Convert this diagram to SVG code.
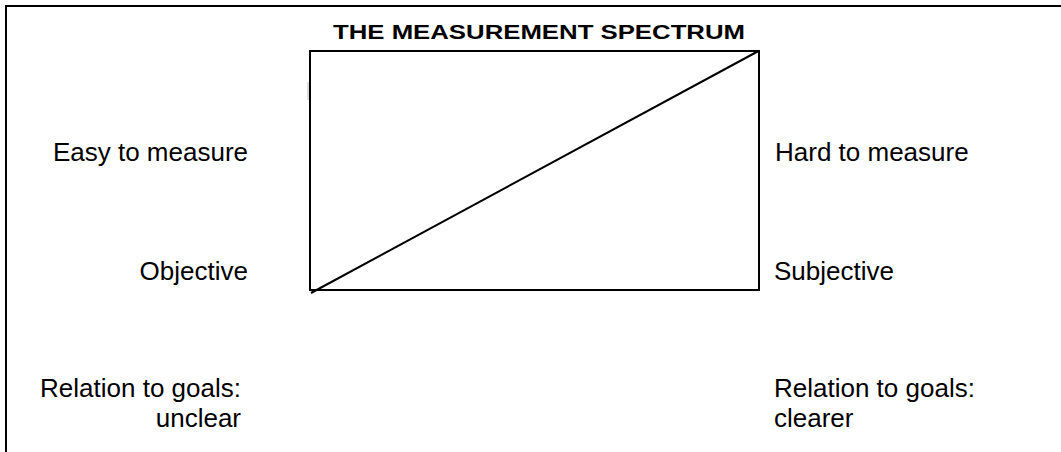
<svg xmlns="http://www.w3.org/2000/svg" width="1061" height="452" viewBox="0 0 1061 452">
<style>
.lbl{font-family:"Liberation Sans",Arial,Helvetica,sans-serif;font-size:26px;fill:#000}
.ttl{font-family:"Liberation Sans",Arial,Helvetica,sans-serif;font-size:21px;font-weight:bold;fill:#000}
.ln{stroke:#000;fill:none;stroke-width:2}
</style>
<rect width="1061" height="452" fill="#fff"/>
<g id="frame">
<path class="ln" d="M6,452 V6 H1061" stroke-width="2.3"/>
</g>
<g id="title">
<text class="ttl" x="539" y="38.5" text-anchor="middle" textLength="412" lengthAdjust="spacingAndGlyphs">THE MEASUREMENT SPECTRUM</text>
</g>
<g id="spectrum-box">
<rect class="ln" x="310" y="51" width="449" height="239"/>
<line x1="308" y1="82" x2="308" y2="100" stroke="#bbb" stroke-width="1"/>
</g>
<g id="connectors">
<line class="ln" x1="758.5" y1="51" x2="311" y2="293"/>
</g>
<g id="left-labels">
<text class="lbl" x="248" y="161" text-anchor="end">Easy to measure</text>
<text class="lbl" x="248" y="280" text-anchor="end">Objective</text>
<text class="lbl" x="241" y="397" text-anchor="end">Relation to goals:</text>
<text class="lbl" x="241" y="427" text-anchor="end">unclear</text>
</g>
<g id="right-labels">
<text class="lbl" x="775" y="161">Hard to measure</text>
<text class="lbl" x="774" y="280">Subjective</text>
<text class="lbl" x="774" y="397">Relation to goals:</text>
<text class="lbl" x="774" y="427">clearer</text>
</g>
</svg>
